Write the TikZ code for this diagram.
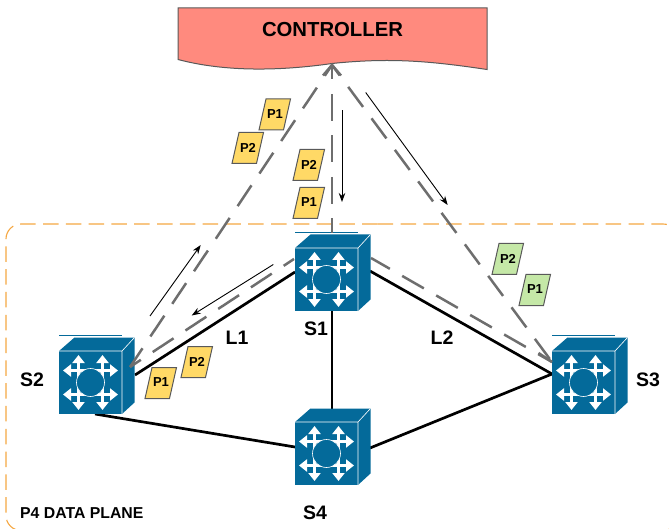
\documentclass[tikz,border=0pt]{standalone}
\usepackage{fontspec}
\setmainfont{Liberation Sans}
\usetikzlibrary{arrows.meta}
\definecolor{swblue}{HTML}{046A9A}
\definecolor{ctrlred}{HTML}{FF8A7E}
\definecolor{dashgray}{HTML}{6E6E6E}
\definecolor{boxorange}{HTML}{F5A742}
\definecolor{pyellow}{HTML}{FFD966}
\definecolor{pgreen}{HTML}{C5E8A7}
\tikzset{
  x=1pt,y=-1pt,
  link/.style={line width=2.7pt,black},
  flow/.style={line width=2.5pt,dashgray,dash pattern=on 25pt off 14.2pt,dash phase=12pt},
  flowv/.style={line width=2.5pt,dashgray,dash pattern=on 27pt off 14.5pt,dash phase=12.5pt},
  openhead/.style={dashgray,line width=2.5pt},
  thinarrow/.style={line width=0.9pt,black,-{Stealth[length=9pt,width=6.5pt]}},
  swfront/.style={rectangle,fill=swblue,minimum size=63pt,inner sep=0pt,outer sep=0pt},
  swicon/.style={white,line width=2.3pt},
  lab/.style={font=\fontsize{19.5}{20}\selectfont\bfseries,inner sep=0pt},
  pktext/.style={font=\fontsize{13}{14}\selectfont\bfseries,inner sep=0pt},
}
% #1 name, #2 x of front centre, #3 y of front centre, #4 style of thin top rule
\newcommand{\netswitch}[4]{%
  \node[swfront] (#1) at (#2,#3) {};
  \begin{scope}[shift={(#2,#3)}]
    \fill[swblue] (-31.5,-31.5) -- (-16,-45) -- (44,-45) -- (31.5,-31.5) -- cycle;
    \fill[swblue] (31.5,-31.5) -- (44,-45) -- (44,20) -- (31.5,31.5) -- cycle;
    \draw[white,line width=0.6pt] (-31.5,-31.5) -- (31.5,-31.5) -- (44,-45) (31.5,-31.5) -- (31.5,31.5);
    \path[#4,line width=0.7pt] (-31.5,-47) -- (31.5,-47);
    \foreach \p in {-12,12}{
      \draw[swicon,{Triangle[length=8pt,width=12pt]}-{Triangle[length=8pt,width=12pt]}] (-27.5,\p) -- (27.5,\p);
      \draw[swicon,{Triangle[length=8pt,width=12pt]}-{Triangle[length=8pt,width=12pt]}] (\p,-27.5) -- (\p,27.5);
    }
    \fill[swblue] (0,0) circle (14);
    \draw[white,line width=0.6pt] (0,0) circle (14);
  \end{scope}}
% #1 name, #2 x, #3 y, #4 fill, #5 text
\newcommand{\packet}[5]{%
  \draw[fill=#4,draw=black!65,line width=1pt] (#2-16,#3+15.5) -- (#2-9,#3-15.5) -- (#2+15.5,#3-15.5) -- (#2+8.5,#3+15.5) -- cycle;
  \node[pktext] (#1) at (#2,#3-0.5) {#5};}
\begin{document}
\begin{tikzpicture}
\useasboundingbox (0,0) rectangle (669,529);
% data plane box
\begin{scope}
  \clip (0,0) rectangle (669,529);
  \draw[boxorange,line width=1.1pt,dash pattern=on 15.5pt off 7.3pt,rounded corners=15pt] (377.7,224) -- (678,224) -- (678,530.5) -- (200,530.5);
  \draw[boxorange,line width=1.1pt,dash pattern=on 15.5pt off 7.3pt,rounded corners=15pt] (377.7,224) -- (6,224) -- (6,530.5) -- (200,530.5);
\end{scope}
\node[font=\fontsize{15.8}{16}\selectfont\bfseries,inner sep=0pt,anchor=west] (dp) at (20,513.5) {P4 DATA PLANE};
% controller
\draw[fill=ctrlred,draw=black!65,line width=1pt] (178,8) -- (487,8) -- (487,69.5) .. controls (430,61) and (390,57.5) .. (332,63.5) .. controls (280,71) and (225,72) .. (178,59.5) -- cycle;
\node[font=\fontsize{20.3}{22}\selectfont\bfseries,inner sep=0pt] (ctrl) at (332.5,30) {CONTROLLER};
\coordinate (ctrltip) at (332,65);
% switch anchor points
\coordinate (s1w) at (295,272);
\coordinate (s1e) at (370,271);
\coordinate (s1s) at (332,311);
\coordinate (s2e) at (135,375);
\coordinate (s2s) at (95,414);
\coordinate (s3w) at (552,374);
\coordinate (s4n) at (332,422);
\coordinate (s4w) at (295,447);
\coordinate (s4e) at (370,448);
% links
\draw[link] (s1w) -- (s2e);
\draw[link] (s1e) -- (s3w);
\draw[link] (s1s) -- (s4n);
\draw[link] (s2s) -- (s4w);
\draw[link] (s3w) -- (s4e);
% switches
\netswitch{s1}{326.5}{279.5}{draw=swblue}
\netswitch{s2}{90.5}{382.5}{draw=swblue}
\netswitch{s3}{583.5}{382.5}{draw=swblue}
\netswitch{s4}{326.5}{453.5}{}
% flows
\coordinate (s1top) at (332,233);
\coordinate (s1fw) at (294,259);
\coordinate (s1fe) at (371,258);
\coordinate (s2tip) at (130,367);
\coordinate (s3tip) at (552,362);
\draw[flow] (ctrltip) -- (s2tip);
\draw[flowv] (ctrltip) -- (s1top);
\draw[flow] (ctrltip) -- (s3tip);
\draw[flow] (s2tip) -- (s1fw);
\draw[flow,dash phase=9pt] (s3tip) -- (s1fe);
\draw[openhead] (323,75.5) -- (ctrltip) -- (341,75.5);
\draw[openhead] (538.5,353) -- (s3tip);
% thin arrows
\coordinate (a1s) at (342,110.5); \coordinate (a1e) at (342,202);
\coordinate (a2s) at (365.7,92.5);  \coordinate (a2e) at (447.7,205);
\coordinate (a3s) at (150,316); \coordinate (a3e) at (200.7,245);
\coordinate (a4s) at (273.3,264.5); \coordinate (a4e) at (191.7,315.5);
\draw[thinarrow] (a1s) -- (a1e);
\draw[thinarrow] (a2s) -- (a2e);
\draw[thinarrow] (a3s) -- (a3e);
\draw[thinarrow] (a4s) -- (a4e);
% packets
\packet{p1a}{275}{114.5}{pyellow}{P1}
\packet{p2a}{248}{148}{pyellow}{P2}
\packet{p2b}{309}{165}{pyellow}{P2}
\packet{p1b}{309}{203}{pyellow}{P1}
\packet{p1c}{161}{383}{pyellow}{P1}
\packet{p2c}{197}{362}{pyellow}{P2}
\packet{p2d}{508}{259}{pgreen}{P2}
\packet{p1d}{535}{290}{pgreen}{P1}
% labels
\node[lab] (ls1) at (316,329) {S1};
\node[lab] (ls2) at (32,380) {S2};
\node[lab] (ls3) at (648,379.5) {S3};
\node[lab] (ls4) at (315,513) {S4};
\node[lab] (ll1) at (237,338) {L1};
\node[lab] (ll2) at (442,338) {L2};
\end{tikzpicture}
\end{document}
